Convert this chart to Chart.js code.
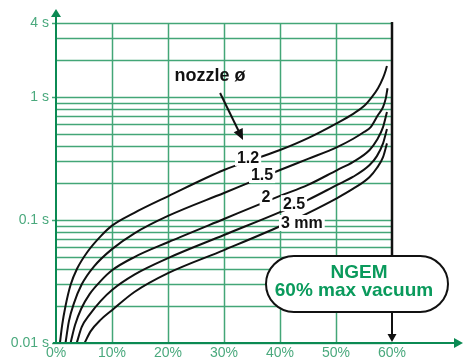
<!DOCTYPE html>
<html>
<head>
<meta charset="utf-8">
<script src="https://cdn.jsdelivr.net/npm/chart.js@4.4.1/dist/chart.umd.min.js"></script>
<style>
  body { margin: 0; background: #fff; }
  #wrap { width: 464px; height: 360px; }
</style>
</head>
<body>
<div id="wrap"><canvas id="chart"></canvas></div>
<script>
// NGEM evacuation time vs vacuum level, one curve per nozzle diameter

const FONT = "'Liberation Sans', Arial, Helvetica, sans-serif";
const GREEN = '#0a9a5c';
const GRID = '#43a677';

// Series: vacuum level (%) and time (s)
const nozzleNames = ['1.2', '1.5', '2', '2.5', '3 mm'];

const vac12 = [0.7, 1.1, 1.7, 2.6, 3.8, 5.6, 8.0, 10, 13.9, 20, 30, 40, 45, 50.2, 53, 55, 56.4, 57.5, 58.4, 58.9, 59.1];
const time12 = [0.01, 0.014, 0.02, 0.0296, 0.0405, 0.055, 0.074, 0.09, 0.114, 0.156, 0.255, 0.371, 0.464, 0.615, 0.727, 0.845, 1.0, 1.18, 1.43, 1.66, 1.79];

const vac15 = [1.7, 2.3, 3.2, 4.6, 6.8, 10, 14, 20, 30, 40, 45, 50.2, 53, 55, 56.2, 57.5, 58.4, 58.9, 59.2];
const time15 = [0.01, 0.015, 0.021, 0.03, 0.042, 0.058, 0.078, 0.108, 0.166, 0.255, 0.314, 0.392, 0.456, 0.52, 0.57, 0.714, 0.83, 0.98, 1.18];

const vac20 = [2.6, 3.4, 4.5, 6, 8, 10, 14, 20, 30, 40, 45, 50.2, 53, 56, 57.3, 58.4, 59.1];
const time20 = [0.01, 0.014, 0.019, 0.025, 0.032, 0.039, 0.05, 0.066, 0.102, 0.157, 0.193, 0.255, 0.296, 0.371, 0.447, 0.57, 0.755];

const vac25 = [3.7, 4.6, 6, 8, 10, 14, 20, 30, 40, 45, 50.2, 53, 56, 57.3, 58.4, 59.1];
const time25 = [0.01, 0.0135, 0.017, 0.022, 0.027, 0.036, 0.049, 0.0755, 0.116, 0.146, 0.193, 0.224, 0.28, 0.331, 0.42, 0.55];

const vac30 = [5.1, 6.2, 8, 10, 14, 20, 30, 40, 45, 50.2, 53, 56, 57.3, 58.4, 59.1];
const time30 = [0.01, 0.0125, 0.0155, 0.0185, 0.026, 0.037, 0.057, 0.089, 0.114, 0.151, 0.179, 0.224, 0.265, 0.325, 0.42];

// Ticks and grid
const xTicks = [0, 10, 20, 30, 40, 50, 60];
const xTickLabels = ['0%', '10%', '20%', '30%', '40%', '50%', '60%'];
const yTicks = [0.01, 0.1, 1, 4];
const yTickLabels = ['0.01 s', '0.1 s', '1 s', '4 s'];
const yGrid = [0.01, 0.02, 0.03, 0.04, 0.05, 0.06, 0.07, 0.08, 0.09,
               0.1, 0.2, 0.3, 0.4, 0.5, 0.6, 0.7, 0.8, 0.9,
               1, 2, 3, 4];
const xGrid = [10, 20, 30, 40, 50];

// Curve labels (placed in data coordinates)
const curveLabels = [
    { text: '1.2', x: 34.3, y: 0.32 },
    { text: '1.5', x: 36.8, y: 0.232 },
    { text: '2', x: 37.5, y: 0.154 },
    { text: '2.5', x: 42.5, y: 0.137 },
    { text: '3 mm', x: 43.9, y: 0.0946 }
];

const series = [
    { vac: vac12, time: time12 },
    { vac: vac15, time: time15 },
    { vac: vac20, time: time20 },
    { vac: vac25, time: time25 },
    { vac: vac30, time: time30 }
];

const datasets = series.map((s, i) => ({
    label: nozzleNames[i],
    data: s.vac.map((v, j) => ({ x: v, y: s.time[j] })),
    borderColor: '#111',
    borderWidth: 2,
    pointRadius: 0,
    fill: false,
    cubicInterpolationMode: 'monotone',
    clip: false
}));

function arrowHead(ctx, x1, y1, x2, y2, len, half) {
    const a = Math.atan2(y2 - y1, x2 - x1);
    ctx.beginPath();
    ctx.moveTo(x2, y2);
    ctx.lineTo(x2 - len * Math.cos(a) + half * Math.sin(a), y2 - len * Math.sin(a) - half * Math.cos(a));
    ctx.lineTo(x2 - len * Math.cos(a) - half * Math.sin(a), y2 - len * Math.sin(a) + half * Math.cos(a));
    ctx.closePath();
    ctx.fill();
}

// Grid only spans 0..60% and 0.01..4 s
const gridPlugin = {
    id: 'grid',
    beforeDatasetsDraw(chart) {
        const { ctx, scales: { x, y } } = chart;
        const x0 = x.getPixelForValue(0);
        const x60 = x.getPixelForValue(60);
        ctx.save();
        ctx.strokeStyle = GRID;
        ctx.lineWidth = 1.5;
        yGrid.forEach(t => {
            const py = Math.round(y.getPixelForValue(t)) + 0.5;
            const start = yTicks.includes(t) ? x0 - 4 : x0;
            ctx.beginPath();
            ctx.moveTo(start, py);
            ctx.lineTo(x60, py);
            ctx.stroke();
        });
        xGrid.forEach(v => {
            const px = Math.round(x.getPixelForValue(v)) + 0.5;
            ctx.beginPath();
            ctx.moveTo(px, y.getPixelForValue(4));
            ctx.lineTo(px, y.getPixelForValue(0.01));
            ctx.stroke();
        });
        ctx.restore();
    }
};

const overlayPlugin = {
    id: 'overlay',
    afterDatasetsDraw(chart) {
        const { ctx, scales: { x, y }, chartArea } = chart;
        const x0 = x.getPixelForValue(0);
        const y0 = y.getPixelForValue(0.01);
        const x60 = x.getPixelForValue(60);

        ctx.save();

        // curve labels with white knock-out
        ctx.font = 'bold 16px ' + FONT;
        ctx.textAlign = 'center';
        ctx.textBaseline = 'middle';
        curveLabels.forEach(l => {
            const px = x.getPixelForValue(l.x);
            const py = y.getPixelForValue(l.y);
            const w = ctx.measureText(l.text).width;
            ctx.fillStyle = '#fff';
            ctx.fillRect(px - w / 2 - 2, py - 8, w + 4, 16);
            ctx.fillStyle = '#111';
            ctx.fillText(l.text, px, py + 1);
        });

        // "nozzle ø" with arrow to the first curve
        ctx.font = 'bold 18px ' + FONT;
        ctx.fillStyle = '#111';
        ctx.fillText('nozzle ø', x.getPixelForValue(27.5), y.getPixelForValue(1.48));
        const ax1 = x.getPixelForValue(29.3), ay1 = y.getPixelForValue(1.08);
        const ax2 = x.getPixelForValue(33.4), ay2 = y.getPixelForValue(0.447);
        ctx.strokeStyle = '#111';
        ctx.lineWidth = 2;
        ctx.beginPath();
        ctx.moveTo(ax1, ay1);
        ctx.lineTo(ax2 - (ax2 - ax1) * 0.15, ay2 - (ay2 - ay1) * 0.15);
        ctx.stroke();
        arrowHead(ctx, ax1, ay1, ax2, ay2, 11, 5);

        // callout box
        const bl = x.getPixelForValue(37.5), br = x.getPixelForValue(70);
        const bt = y.getPixelForValue(0.051), bb = y.getPixelForValue(0.0179);
        const r = (bb - bt) / 2;

        // black 60% line above and arrow below the box
        ctx.lineWidth = 2.5;
        ctx.beginPath();
        ctx.moveTo(x60, y.getPixelForValue(4) - 1);
        ctx.lineTo(x60, bt);
        ctx.stroke();
        ctx.lineWidth = 2;
        ctx.beginPath();
        ctx.moveTo(x60, bb);
        ctx.lineTo(x60, y0 - 6);
        ctx.stroke();
        arrowHead(ctx, x60, bb, x60, y0 - 1, 8, 4.5);

        ctx.beginPath();
        ctx.moveTo(bl + r, bt);
        ctx.lineTo(br - r, bt);
        ctx.arc(br - r, bt + r, r, -Math.PI / 2, Math.PI / 2);
        ctx.lineTo(bl + r, bb);
        ctx.arc(bl + r, bt + r, r, Math.PI / 2, Math.PI * 1.5);
        ctx.closePath();
        ctx.fillStyle = '#fff';
        ctx.fill();
        ctx.lineWidth = 2;
        ctx.stroke();

        ctx.fillStyle = GREEN;
        ctx.font = 'bold 19px ' + FONT;
        const cx = (bl + br) / 2;
        ctx.fillText('NGEM', cx + 2, bt + 17);
        ctx.fillText('60% max vacuum', cx - 3, bt + 35);

        // green axes with arrows
        ctx.strokeStyle = '#0b8a53';
        ctx.fillStyle = '#0b8a53';
        ctx.lineWidth = 2;
        ctx.beginPath();
        ctx.moveTo(x0, y0);
        ctx.lineTo(x0, chartArea.top + 8);
        ctx.stroke();
        arrowHead(ctx, x0, y0, x0, chartArea.top + 1, 8, 5);
        ctx.beginPath();
        ctx.moveTo(x0 - 3, y0);
        ctx.lineTo(chartArea.right - 6, y0);
        ctx.stroke();
        arrowHead(ctx, x0, y0, chartArea.right + 1, y0, 9, 5);

        ctx.restore();
    }
};

new Chart(document.getElementById('chart'), {
    type: 'line',
    data: { datasets },
    options: {
        responsive: true,
        maintainAspectRatio: false,
        animation: false,
        layout: { padding: { top: 8, right: 2, left: 0, bottom: 0 } },
        plugins: {
            legend: { display: false },
            tooltip: { enabled: false }
        },
        scales: {
            x: {
                type: 'linear',
                min: 0,
                max: 72.5,
                afterBuildTicks: s => { s.ticks = xTicks.map(v => ({ value: v })); },
                afterFit: s => {
                    s.height = 17;
                    s.paddingLeft = 0;
                    s.paddingRight = 0;
                },
                grid: { display: false, drawTicks: false },
                border: { display: false },
                ticks: {
                    padding: 2,
                    maxRotation: 0,
                    autoSkip: false,
                    color: '#4aa97d',
                    font: { family: FONT, size: 14 },
                    callback: v => xTickLabels[xTicks.indexOf(v)]
                }
            },
            y: {
                type: 'logarithmic',
                min: 0.01,
                max: 5.3,
                afterBuildTicks: s => { s.ticks = yTicks.map(v => ({ value: v })); },
                afterFit: s => {
                    s.width = 56;
                    s.paddingTop = 0;
                    s.paddingBottom = 0;
                },
                grid: { display: false, drawTicks: false },
                border: { display: false },
                ticks: {
                    padding: 7,
                    autoSkip: false,
                    color: '#4aa97d',
                    font: { family: FONT, size: 14 },
                    callback: v => yTickLabels[yTicks.indexOf(v)]
                }
            }
        }
    },
    plugins: [gridPlugin, overlayPlugin]
});
</script>
</body>
</html>
